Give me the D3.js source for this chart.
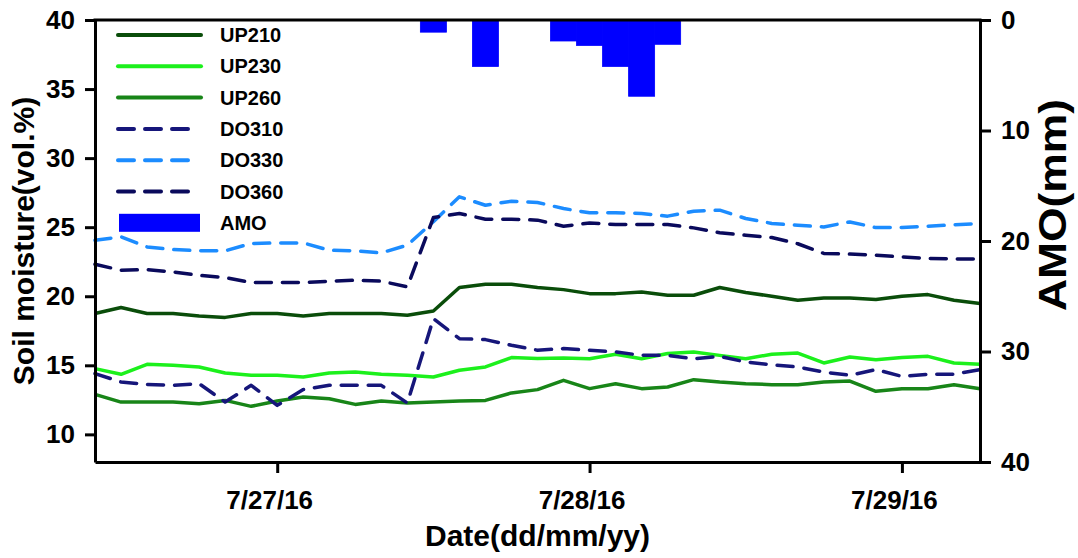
<!DOCTYPE html>
<html>
<head>
<meta charset="utf-8">
<script src="https://cdn.jsdelivr.net/npm/d3@7"></script>
<style>
  html, body { margin: 0; padding: 0; background: #fff; }
  svg { display: block; }
  text { font-family: Arial, "Liberation Sans", sans-serif; font-weight: bold; fill: #000; }
</style>
</head>
<body>
<svg id="chart" width="1078" height="558"></svg>
<script>
// ---- data ----
const times = [
  "2016-07-26T10:00","2016-07-26T12:00","2016-07-26T14:00","2016-07-26T16:00","2016-07-26T18:00","2016-07-26T20:00","2016-07-26T22:00",
  "2016-07-27T00:00","2016-07-27T02:00","2016-07-27T04:00","2016-07-27T06:00","2016-07-27T08:00","2016-07-27T10:00",
  "2016-07-27T12:00","2016-07-27T14:00","2016-07-27T16:00","2016-07-27T18:00","2016-07-27T20:00","2016-07-27T22:00",
  "2016-07-28T00:00","2016-07-28T02:00","2016-07-28T04:00","2016-07-28T06:00","2016-07-28T08:00","2016-07-28T10:00",
  "2016-07-28T12:00","2016-07-28T14:00","2016-07-28T16:00","2016-07-28T18:00","2016-07-28T20:00","2016-07-28T22:00",
  "2016-07-29T00:00","2016-07-29T02:00","2016-07-29T04:00","2016-07-29T06:00"
];
const UP210 = [18.75,19.18,18.75,18.75,18.57,18.47,18.75,18.75,18.57,18.75,18.75,18.75,18.63,18.93,20.63,20.87,20.87,20.63,20.48,20.19,20.19,20.31,20.07,20.07,20.63,20.27,20.0,19.71,19.88,19.88,19.76,20.0,20.12,19.71,19.47];
const UP230 = [14.76,14.35,15.07,15.0,14.88,14.44,14.28,14.28,14.15,14.44,14.51,14.35,14.28,14.15,14.64,14.88,15.56,15.5,15.53,15.48,15.80,15.48,15.85,15.97,15.72,15.48,15.80,15.89,15.17,15.60,15.41,15.56,15.65,15.17,15.07];
const UP260 = [12.9,12.34,12.34,12.34,12.22,12.46,12.03,12.41,12.71,12.58,12.17,12.41,12.27,12.34,12.41,12.46,13.0,13.24,13.91,13.31,13.67,13.31,13.43,13.96,13.79,13.67,13.6,13.6,13.79,13.86,13.12,13.31,13.31,13.6,13.31];
const DO310 = [14.4,13.79,13.62,13.55,13.67,12.34,13.55,12.1,13.24,13.55,13.55,13.55,12.27,18.38,16.93,16.86,16.45,16.09,16.21,16.09,15.97,15.72,15.72,15.48,15.65,15.24,15.04,14.88,14.51,14.28,14.69,14.2,14.35,14.35,14.69];
const DO330 = [24.06,24.3,23.57,23.38,23.29,23.29,23.82,23.86,23.86,23.33,23.29,23.14,23.7,25.4,27.2,26.59,26.88,26.79,26.35,26.04,26.04,25.99,25.8,26.16,26.23,25.63,25.27,25.14,25.02,25.38,24.97,24.97,25.07,25.17,25.27];
const DO360 = [22.32,21.88,21.93,21.76,21.52,21.35,20.99,20.99,20.99,21.09,21.16,21.09,20.68,25.7,25.99,25.58,25.58,25.51,25.07,25.31,25.19,25.19,25.19,24.95,24.6,24.42,24.25,23.8,23.1,23.05,22.97,22.85,22.73,22.7,22.7];
const amoTimes = ["2016-07-27T12:00","2016-07-27T16:00","2016-07-27T22:00","2016-07-28T00:00","2016-07-28T02:00","2016-07-28T04:00","2016-07-28T06:00"];
const amoValues = [1.1,4.2,1.9,2.3,4.2,6.9,2.2];
const xTickDates = ["2016-07-27T00:00","2016-07-28T00:00","2016-07-29T00:00"];
const yLeftTicks = [10,15,20,25,30,35,40];
const yRightTicks = [0,10,20,30,40];
const seriesNames = ["UP210","UP230","UP260","DO310","DO330","DO360"];
const seriesValues = [UP210, UP230, UP260, DO310, DO330, DO360];

// ---- styles ----
const seriesColors = ["#0a4d0a","#1cf01c","#188518","#16167a","#1c8cff","#0a0a5c"];
const seriesDashed = [false,false,false,true,true,true];
const amoColor = "#0000ff";

const parse = d3.timeParse("%Y-%m-%dT%H:%M");
const tDates = times.map(parse);

const svg = d3.select("#chart");
svg.append("rect").attr("width",1078).attr("height",558).attr("fill","#fff");

const L = 95, R = 980, T = 20, B = 462;
const x = d3.scaleTime().domain([tDates[0], tDates[tDates.length-1]]).range([L, R]);
const yL = d3.scaleLinear().domain([8, 40]).range([B, T]);
const yR = d3.scaleLinear().domain([0, 40]).range([T, B]);

// AMO bars (hanging from top)
const twoH = 2 * 3600 * 1000;
const amo = amoTimes.map((t, i) => ({t: parse(t), v: amoValues[i]}));
svg.append("g").selectAll("rect").data(amo).enter().append("rect")
  .attr("x", d => x(new Date(+d.t - twoH/2)))
  .attr("width", d => x(new Date(+d.t + twoH/2)) - x(new Date(+d.t - twoH/2)))
  .attr("y", yR(0))
  .attr("height", d => yR(d.v) - yR(0))
  .attr("fill", amoColor)
  .attr("stroke", amoColor)
  .attr("stroke-width", 0.8);

// lines
const line = d3.line().x((d, i) => x(tDates[i])).y(d => yL(d));
seriesValues.forEach((vals, k) => {
  svg.append("path")
    .attr("d", line(vals))
    .attr("fill", "none")
    .attr("stroke", seriesColors[k])
    .attr("stroke-width", 3.5)
    .attr("stroke-linejoin", "round")
    .attr("stroke-linecap", seriesDashed[k] ? "round" : "butt")
    .attr("stroke-dasharray", seriesDashed[k] ? "16,11" : null);
});

// axes
function styleAxis(g) {
  g.selectAll("path.domain").attr("stroke", "#000").attr("stroke-width", 3);
  g.selectAll(".tick line").attr("stroke", "#000").attr("stroke-width", 3);
  g.selectAll(".tick text").attr("font-size", 26).attr("font-weight", "bold")
    .attr("font-family", 'Arial, "Liberation Sans", sans-serif').attr("fill", "#000");
}
svg.append("g").attr("transform", `translate(${L},0)`)
  .call(d3.axisLeft(yL).tickValues(yLeftTicks).tickSize(10).tickSizeOuter(0).tickPadding(10))
  .call(styleAxis);
svg.append("g").attr("transform", `translate(${R},0)`)
  .call(d3.axisRight(yR).tickValues(yRightTicks).tickSize(11).tickSizeOuter(0).tickPadding(10))
  .call(styleAxis);
svg.append("g").attr("transform", `translate(0,${B})`)
  .call(d3.axisBottom(x).tickValues(xTickDates.map(parse)).tickFormat(d3.timeFormat("%-m/%-d/%y"))
    .tickSize(11).tickSizeOuter(0).tickPadding(18))
  .call(styleAxis)
  .call(g => g.selectAll(".tick text").attr("dx", -8));
svg.append("line").attr("x1", L - 1.5).attr("x2", R + 1.5).attr("y1", T).attr("y2", T)
  .attr("stroke", "#000").attr("stroke-width", 3);

// axis titles
svg.append("text").attr("transform", `translate(34,${(T+B)/2}) rotate(-90)`)
  .attr("text-anchor", "middle").attr("font-size", 30).text("Soil moisture(vol.%)");
svg.append("text").attr("transform", `translate(1066,205) rotate(-90)`)
  .attr("text-anchor", "middle").attr("font-size", 38)
  .attr("textLength", 212).attr("lengthAdjust", "spacingAndGlyphs").text("AMO(mm)");
svg.append("text").attr("x", (L+R)/2).attr("y", 546)
  .attr("text-anchor", "middle").attr("font-size", 30).text("Date(dd/mm/yy)");

// legend
const lg = svg.append("g");
const legY0 = 35, legDY = 31.3;
seriesNames.forEach((name, k) => {
  const yy = legY0 + k * legDY;
  lg.append("line").attr("x1", 118).attr("x2", seriesDashed[k] ? 190 : 201)
    .attr("y1", yy).attr("y2", yy)
    .attr("stroke", seriesColors[k]).attr("stroke-width", 4)
    .attr("stroke-linecap", "round")
    .attr("stroke-dasharray", seriesDashed[k] ? "16,11" : null);
  lg.append("text").attr("x", 220).attr("y", yy + 7).attr("font-size", 20).text(name);
});
const amoY = legY0 + 6 * legDY;
lg.append("rect").attr("x", 119).attr("y", amoY - 9).attr("width", 81).attr("height", 18).attr("fill", amoColor);
lg.append("text").attr("x", 220).attr("y", amoY + 7).attr("font-size", 20).text("AMO");
</script>
</body>
</html>
